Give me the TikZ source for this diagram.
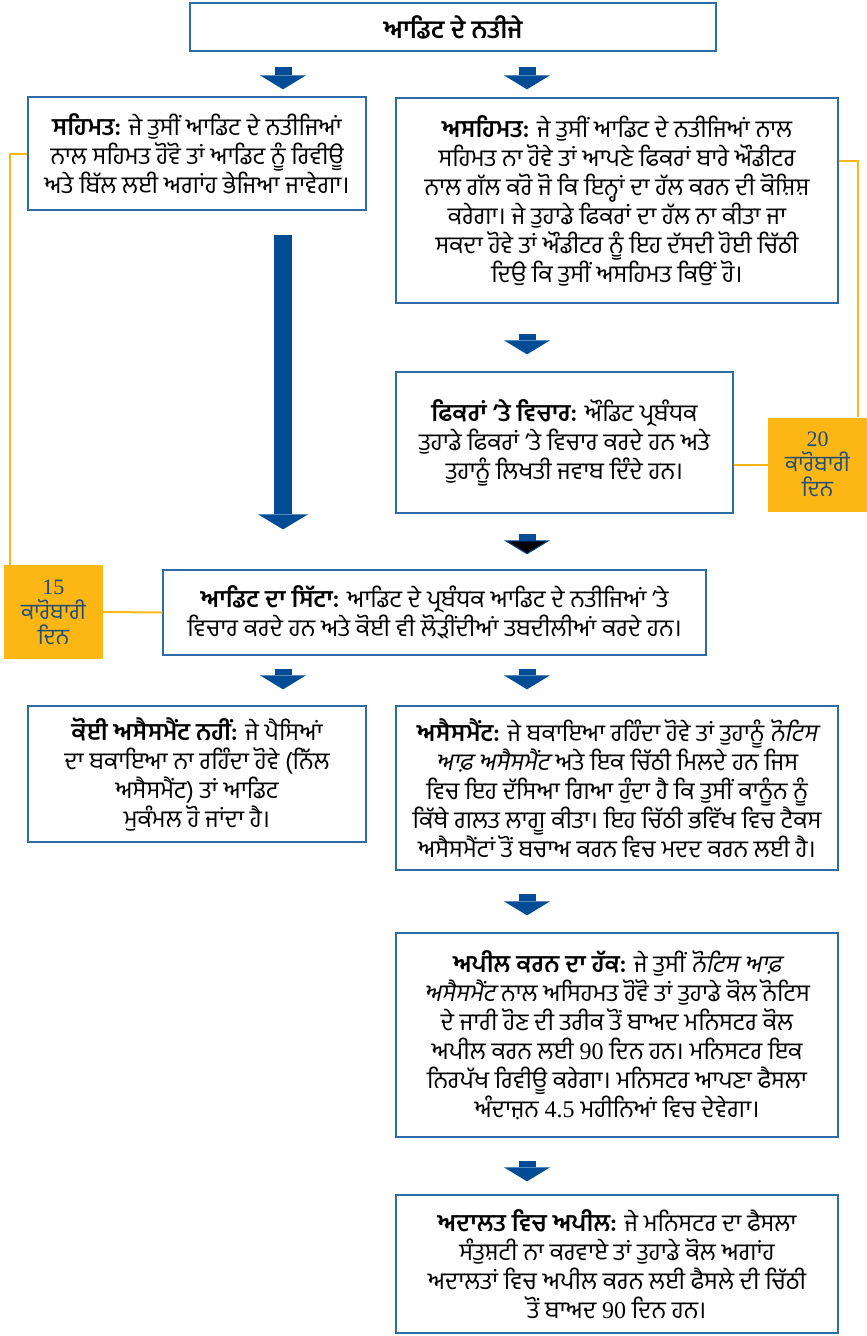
\documentclass[tikz,border=0pt]{standalone}
\usepackage{fontspec}
\usepackage{tikz}
\usetikzlibrary{arrows.meta,calc,positioning}
\newfontfamily\gur[Script=Gurmukhi]{Hind Jalandhar}
\newfontfamily\gurit[Script=Gurmukhi,FakeSlant=0.2]{Hind Jalandhar}
\newfontfamily\numfont{Liberation Serif}
\definecolor{boxblue}{RGB}{46,108,168}
\definecolor{arrowblue}{RGB}{0,76,151}
\definecolor{daygold}{RGB}{252,183,20}
\definecolor{daytext}{RGB}{31,78,121}
\tikzset{
  stage/.style={rectangle, draw=boxblue, line width=1.3pt, fill=white, align=center, inner sep=0pt,
    font=\gur\fontsize{24}{29}\selectfont},
  daysbox/.style={rectangle, fill=daygold, text=daytext, align=center, inner sep=0pt,
    minimum width=99pt, minimum height=94pt, font=\gur\fontsize{22}{25}\selectfont},
  yline/.style={draw=daygold, line width=2pt},
  downarrow/.style={draw=arrowblue, line width=17pt, -{Triangle[width=46pt,length=14pt,line width=0pt]}},
}

\begin{document}
\begin{tikzpicture}[x=1pt, y=-1pt]
\useasboundingbox (0,0) rectangle (867,1336);
% columns of the arrows
\coordinate (lcol) at (283,0);
\coordinate (rcol) at (527,0);

% Boxes
\node[stage, minimum width=526pt, minimum height=48pt, font=\gur\fontsize{25}{29}\selectfont] (results) at (453,27) {\bfseries ਆਡਿਟ ਦੇ ਨਤੀਜੇ};
\node[stage, minimum width=338pt, minimum height=113pt] (agree) at (197,153.5)
  {{\bfseries ਸਹਿਮਤ:} ਜੇ ਤੁਸੀਂ ਆਡਿਟ ਦੇ ਨਤੀਜਿਆਂ\\ ਨਾਲ ਸਹਿਮਤ ਹੋਵੋ ਤਾਂ ਆਡਿਟ ਨੂੰ ਰਿਵੀਊ\\ ਅਤੇ ਬਿੱਲ ਲਈ ਅਗਾਂਹ ਭੇਜਿਆ ਜਾਵੇਗਾ।};
\node[stage, minimum width=442pt, minimum height=205pt] (disagree) at (617,200.5)
  {{\bfseries ਅਸਹਿਮਤ:} ਜੇ ਤੁਸੀਂ ਆਡਿਟ ਦੇ ਨਤੀਜਿਆਂ ਨਾਲ\\ ਸਹਿਮਤ ਨਾ ਹੋਵੇ ਤਾਂ ਆਪਣੇ ਫਿਕਰਾਂ ਬਾਰੇ ਔਡੀਟਰ\\ ਨਾਲ ਗੱਲ ਕਰੋ ਜੋ ਕਿ ਇਨ੍ਹਾਂ ਦਾ ਹੱਲ ਕਰਨ ਦੀ ਕੋਸ਼ਿਸ਼\\ ਕਰੇਗਾ। ਜੇ ਤੁਹਾਡੇ ਫਿਕਰਾਂ ਦਾ ਹੱਲ ਨਾ ਕੀਤਾ ਜਾ\\ ਸਕਦਾ ਹੋਵੇ ਤਾਂ ਔਡੀਟਰ ਨੂੰ ਇਹ ਦੱਸਦੀ ਹੋਈ ਚਿੱਠੀ\\ ਦਿਉ ਕਿ ਤੁਸੀਂ ਅਸਹਿਮਤ ਕਿਉਂ ਹੋ।};
\node[stage, minimum width=337pt, minimum height=141pt] (concerns) at (564.5,442.5)
  {{\bfseries ਫਿਕਰਾਂ ’ਤੇ ਵਿਚਾਰ:} ਔਡਿਟ ਪ੍ਰਬੰਧਕ\\ ਤੁਹਾਡੇ ਫਿਕਰਾਂ ’ਤੇ ਵਿਚਾਰ ਕਰਦੇ ਹਨ ਅਤੇ\\ ਤੁਹਾਨੂੰ ਲਿਖਤੀ ਜਵਾਬ ਦਿੰਦੇ ਹਨ।};
\node[stage, minimum width=543pt, minimum height=85pt] (conclusion) at (434.5,612.5)
  {{\bfseries ਆਡਿਟ ਦਾ ਸਿੱਟਾ:} ਆਡਿਟ ਦੇ ਪ੍ਰਬੰਧਕ ਆਡਿਟ ਦੇ ਨਤੀਜਿਆਂ ’ਤੇ\\ ਵਿਚਾਰ ਕਰਦੇ ਹਨ ਅਤੇ ਕੋਈ ਵੀ ਲੋੜੀਂਦੀਆਂ ਤਬਦੀਲੀਆਂ ਕਰਦੇ ਹਨ।};
\node[stage, minimum width=338pt, minimum height=136pt] (noassess) at (197,774)
  {{\bfseries ਕੋਈ ਅਸੈਸਮੈਂਟ ਨਹੀਂ:} ਜੇ ਪੈਸਿਆਂ\\ ਦਾ ਬਕਾਇਆ ਨਾ ਰਹਿੰਦਾ ਹੋਵੇ (ਨਿੱਲ\\ ਅਸੈਸਮੈਂਟ) ਤਾਂ ਆਡਿਟ\\ ਮੁਕੰਮਲ ਹੋ ਜਾਂਦਾ ਹੈ।};
\node[stage, minimum width=442pt, minimum height=164pt] (assess) at (617,788)
  {{\bfseries ਅਸੈਸਮੈਂਟ:} ਜੇ ਬਕਾਇਆ ਰਹਿੰਦਾ ਹੋਵੇ ਤਾਂ ਤੁਹਾਨੂੰ {\gurit ਨੋਟਿਸ}\\ {\gurit ਆਫ਼ ਅਸੈਸਮੈਂਟ} ਅਤੇ ਇਕ ਚਿੱਠੀ ਮਿਲਦੇ ਹਨ ਜਿਸ\\ ਵਿਚ ਇਹ ਦੱਸਿਆ ਗਿਆ ਹੁੰਦਾ ਹੈ ਕਿ ਤੁਸੀਂ ਕਾਨੂੰਨ ਨੂੰ\\ ਕਿੱਥੇ ਗਲਤ ਲਾਗੂ ਕੀਤਾ। ਇਹ ਚਿੱਠੀ ਭਵਿੱਖ ਵਿਚ ਟੈਕਸ\\ ਅਸੈਸਮੈਂਟਾਂ ਤੋਂ ਬਚਾਅ ਕਰਨ ਵਿਚ ਮਦਦ ਕਰਨ ਲਈ ਹੈ।};
\node[stage, minimum width=442pt, minimum height=204pt] (appeal) at (617,1035)
  {{\bfseries ਅਪੀਲ ਕਰਨ ਦਾ ਹੱਕ:} ਜੇ ਤੁਸੀਂ {\gurit ਨੋਟਿਸ ਆਫ਼}\\ {\gurit ਅਸੈਸਮੈਂਟ} ਨਾਲ ਅਸਿਹਮਤ ਹੋਵੋ ਤਾਂ ਤੁਹਾਡੇ ਕੋਲ ਨੋਟਿਸ\\ ਦੇ ਜਾਰੀ ਹੋਣ ਦੀ ਤਰੀਕ ਤੋਂ ਬਾਅਦ ਮਨਿਸਟਰ ਕੋਲ\\ ਅਪੀਲ ਕਰਨ ਲਈ {\numfont 90} ਦਿਨ ਹਨ। ਮਨਿਸਟਰ ਇਕ\\ ਨਿਰਪੱਖ ਰਿਵੀਊ ਕਰੇਗਾ। ਮਨਿਸਟਰ ਆਪਣਾ ਫੈਸਲਾ\\ ਅੰਦਾਜ਼ਨ {\numfont 4.5} ਮਹੀਨਿਆਂ ਵਿਚ ਦੇਵੇਗਾ।};
\node[stage, minimum width=442pt, minimum height=138pt] (court) at (617,1264)
  {{\bfseries ਅਦਾਲਤ ਵਿਚ ਅਪੀਲ:} ਜੇ ਮਨਿਸਟਰ ਦਾ ਫੈਸਲਾ\\ ਸੰਤੁਸ਼ਟੀ ਨਾ ਕਰਵਾਏ ਤਾਂ ਤੁਹਾਡੇ ਕੋਲ ਅਗਾਂਹ\\ ਅਦਾਲਤਾਂ ਵਿਚ ਅਪੀਲ ਕਰਨ ਲਈ ਫੈਸਲੇ ਦੀ ਚਿੱਠੀ\\ ਤੋਂ ਬਾਅਦ {\numfont 90} ਦਿਨ ਹਨ।};

% Time limits
\node[daysbox] (days20) at (817.5,464.5) {{\numfont 20}\\ ਕਾਰੋਬਾਰੀ\\ ਦਿਨ};
\node[daysbox] (days15) at (53.5,612) {{\numfont 15}\\ ਕਾਰੋਬਾਰੀ\\ ਦਿਨ};

% Yellow links
\draw[yline] (agree.west) -| ([xshift=6pt]days15.north west);
\draw[yline] ([yshift=40pt]disagree.east) -| ([xshift=-9pt]days20.north east);
\draw[yline] (concerns.east |- days20.west) -- (days20.west);
\draw[yline] (days15.east) -- (conclusion.west);

% Arrows
\draw[downarrow] ($(results.south -| lcol)+(0,15)$) -- ($(agree.north -| lcol)+(0,-7)$);
\draw[downarrow] ($(results.south -| rcol)+(0,15)$) -- ($(disagree.north -| rcol)+(0,-8)$);
\draw[draw=arrowblue, line width=18pt, -{Triangle[width=50pt,length=15pt,line width=0pt]}]
  ($(agree.south -| lcol)+(0,24)$) -- ($(conclusion.north -| lcol)+(0,-40)$);
\draw[downarrow] ($(disagree.south -| rcol)+(0,30)$) -- ($(concerns.north -| rcol)+(0,-17)$);
\draw[draw=arrowblue, line width=17pt, -{Triangle[width=46pt,length=14pt,line width=1pt,fill=black]}]
  ($(concerns.south -| rcol)+(0,20)$) -- ($(conclusion.north -| rcol)+(0,-15)$);
\draw[downarrow] ($(conclusion.south -| lcol)+(0,13)$) -- ($(noassess.north -| lcol)+(0,-16)$);
\draw[downarrow] ($(conclusion.south -| rcol)+(0,13)$) -- ($(assess.north -| rcol)+(0,-16)$);
\draw[downarrow] ($(assess.south -| rcol)+(0,23)$) -- ($(appeal.north -| rcol)+(0,-17)$);
\draw[downarrow] ($(appeal.south -| rcol)+(0,23)$) -- ($(court.north -| rcol)+(0,-13)$);
\end{tikzpicture}
\end{document}
